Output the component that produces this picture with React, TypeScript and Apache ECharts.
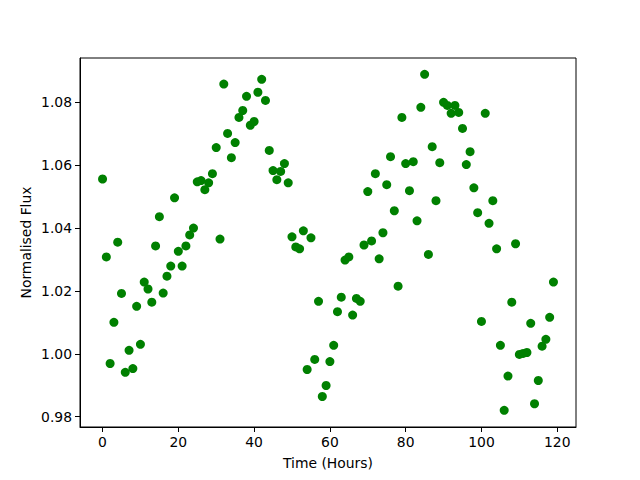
import React, { useEffect, useRef } from "react";
import * as echarts from "echarts";

const hours: number[] = Array.from({ length: 120 }, (_, i) => i);
const flux: number[] = [
  1.0556, 1.0308, 0.9969, 1.01, 1.0355, 1.0192, 0.9941, 1.0011, 0.9953, 1.0151,
  1.003, 1.0228, 1.0206, 1.0164, 1.0343, 1.0436, 1.0193, 1.0247, 1.0279, 1.0496,
  1.0326, 1.0279, 1.0343, 1.0378, 1.04, 1.0547, 1.0551, 1.0522, 1.0544, 1.0573,
  1.0656, 1.0365, 1.0858, 1.0701, 1.0624, 1.0672, 1.0752, 1.0774, 1.0819, 1.0727,
  1.0739, 1.0832, 1.0873, 1.0806, 1.0647, 1.0583, 1.0554, 1.058, 1.0605, 1.0544,
  1.0372, 1.034, 1.0334, 1.0391, 0.995, 1.0369, 0.9982, 1.0167, 0.9864, 0.9899,
  0.9975, 1.0027, 1.0134, 1.018, 1.0298, 1.0308, 1.0123, 1.0176, 1.0167, 1.0346,
  1.0516, 1.0359, 1.0573, 1.0302, 1.0385, 1.0538, 1.0627, 1.0455, 1.0215, 1.0752,
  1.0605, 1.0519, 1.0611, 1.0423, 1.0784, 1.0889, 1.0316, 1.0659, 1.0487, 1.0608,
  1.08, 1.079, 1.0765, 1.079, 1.0768, 1.0717, 1.0602, 1.0643, 1.0528, 1.0449,
  1.0103, 1.0765, 1.0415, 1.0487, 1.0334, 1.0027, 0.982, 0.9929, 1.0164, 1.035,
  0.9998, 1.0001, 1.0004, 1.0097, 0.9841, 0.9915, 1.0024, 1.0046, 1.0116, 1.0228,
];
const xTicks: number[] = [0, 20, 40, 60, 80, 100, 120];
const yTicks: number[] = [0.98, 1.0, 1.02, 1.04, 1.06, 1.08];

export default function App() {
  const ref = useRef<HTMLDivElement>(null);
  useEffect(() => {
    if (!ref.current) return;
    const chart = echarts.init(ref.current, undefined, { renderer: "svg" });
    const font = "DejaVu Sans";
    chart.setOption({
      animation: false,
      backgroundColor: "#ffffff",
      grid: {
        left: 80,
        top: 58,
        width: 496,
        height: 369,
        show: true,
        borderColor: "#000000",
        borderWidth: 1,
        backgroundColor: "transparent",
      },
      xAxis: {
        type: "value",
        min: -5.95,
        max: 124.95,
        name: "Time (Hours)",
        nameLocation: "middle",
        nameGap: 29,
        nameTextStyle: { fontFamily: font, fontSize: 13.9, color: "#000" },
        axisLine: { show: true, onZero: false, lineStyle: { color: "#000", width: 1 } },
        axisTick: { show: true, length: 5, lineStyle: { color: "#000" }, customValues: xTicks },
        axisLabel: {
          fontFamily: font,
          fontSize: 13.9,
          color: "#000",
          margin: 8,
          customValues: xTicks,
          formatter: (v: number) => String(v),
        },
        splitLine: { show: false },
      },
      yAxis: {
        type: "value",
        min: 0.9767,
        max: 1.0941,
        name: "Normalised Flux",
        nameLocation: "middle",
        nameGap: 47,
        nameRotate: 90,
        nameMoveOverlap: false,
        nameTextStyle: { fontFamily: font, fontSize: 13.9, color: "#000" },
        axisLine: { show: true, onZero: false, lineStyle: { color: "#000", width: 1 } },
        axisTick: { show: true, length: 5, lineStyle: { color: "#000" }, customValues: yTicks },
        axisLabel: {
          fontFamily: font,
          fontSize: 13.9,
          color: "#000",
          margin: 8,
          customValues: yTicks,
          formatter: (v: number) => v.toFixed(2),
        },
        splitLine: { show: false },
      },
      series: [
        {
          type: "scatter",
          data: hours.map((h, i) => [h, flux[i]]),
          symbol: "circle",
          symbolSize: 9,
          itemStyle: { color: "#008000", opacity: 1 },
        },
      ],
    });
    return () => chart.dispose();
  }, []);
  return (
    <div
      ref={ref}
      style={{ position: "absolute", left: 0, top: 0, width: 640, height: 480 }}
    />
  );
}
